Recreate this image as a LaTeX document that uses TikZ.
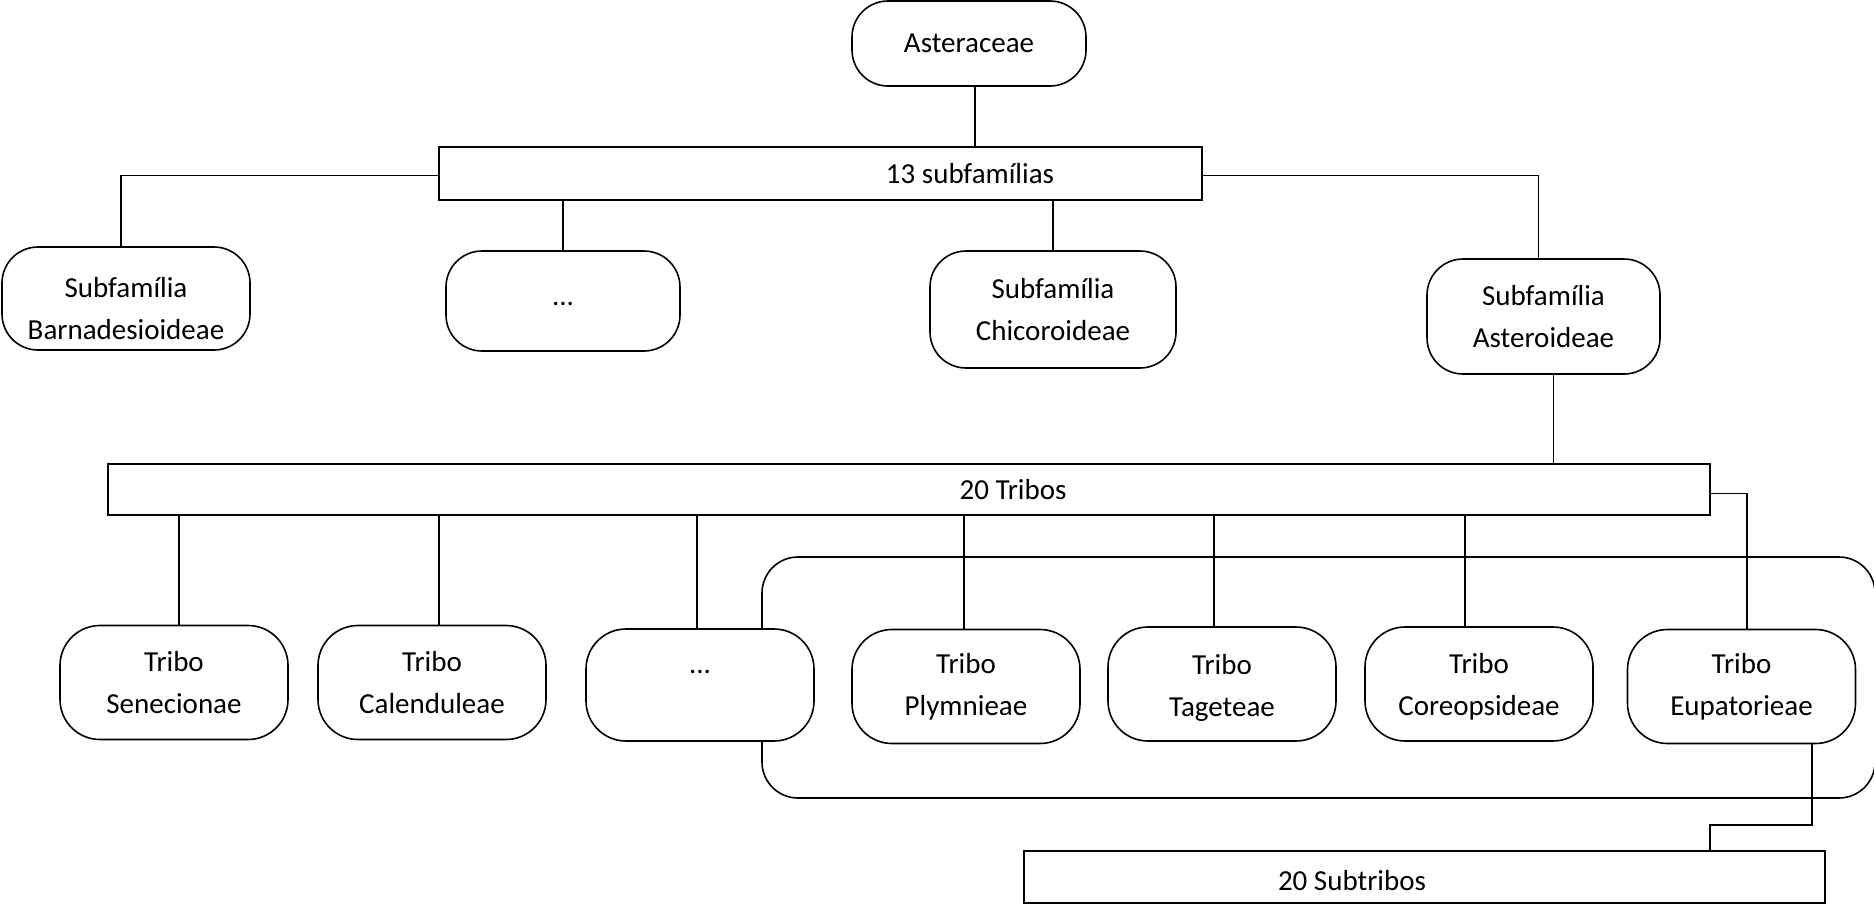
\documentclass[tikz,border=0pt]{standalone}
\usepackage{fontspec}
\setmainfont{Carlito}
\begin{document}
\begin{tikzpicture}[x=1pt,y=-1pt,
  every node/.style={font=\fontsize{29}{42}\selectfont, align=center, inner sep=0pt},
  roundbox/.style={draw, fill=white, line width=1.6pt, rounded corners=36pt},
  tribebox/.style={roundbox, minimum width=228pt, minimum height=114pt, rounded corners=40pt},
  rectbox/.style={draw, fill=white, line width=1.6pt},
  conn/.style={line width=1.4pt}]
\useasboundingbox (0,0) rectangle (1874,905);
\begin{scope}
\clip (0,0) rectangle (1874,905);
% group frame
\node[draw, line width=1.6pt, rounded corners=36pt, minimum width=1113pt, minimum height=241pt] (grp) at (1318.5,677.5) {};
% top nodes
\node[roundbox, minimum width=234pt, minimum height=85pt] (ast) at (969,43.5) {Asteraceae};
\node[rectbox, minimum width=763pt, minimum height=53pt] (sub) at (820.5,173.5) {};
\node (subt) at (970,174) {13 subfamílias};
\node[roundbox, minimum width=248pt, minimum height=103pt] (barn) at (126,298.5) {};
\node (barnt) at (126,309) {Subfamília\\Barnadesioideae};
\node[roundbox, minimum width=234pt, minimum height=100pt] (dots1) at (563,301) {};
\node (dots1t) at (563,304) {...};
\node[roundbox, minimum width=246pt, minimum height=117pt] (chic) at (1053,309.5) {Subfamília\\Chicoroideae};
\node[roundbox, minimum width=233pt, minimum height=115pt] (aster) at (1543.5,316.5) {Subfamília\\Asteroideae};
% tribes
\node[rectbox, minimum width=1602pt, minimum height=51pt] (tribos) at (909,489.5) {};
\node (tribost) at (1013,490) {20 Tribos};
% connectors
\draw[conn] ([xshift=6pt]ast.south) -- ([xshift=6pt]ast.south |- sub.north);
\draw[conn] ([yshift=-2pt]sub.west) -| ([xshift=-5pt]barn.north);
\draw[conn] (sub.south -| dots1.north) -- (dots1.north);
\draw[conn] (sub.south -| chic.north) -- (chic.north);
\draw[conn] ([yshift=-2pt]sub.east) -| ([xshift=-5pt]aster.north);
\draw[conn] ([xshift=10pt]aster.south) -- ([xshift=10pt]aster.south |- tribos.north);
\node[tribebox] (sen) at (174,682.5) {Tribo\\Senecionae};
\node[tribebox] (cal) at (432,682.5) {Tribo\\Calenduleae};
\node[tribebox, minimum height=112pt] (dots2) at (700,685) {};
\node (dots2t) at (700,672) {...};
\node[tribebox] (ply) at (966,686.5) {Tribo\\Plymnieae};
\node[tribebox] (tag) at (1222,684) {};
\node (tagt) at (1222,688) {Tribo\\Tageteae};
\node[tribebox] (cor) at (1479,684) {};
\node (cort) at (1479,687) {Tribo\\Coreopsideae};
\node[tribebox] (eup) at (1741.5,686.5) {Tribo\\Eupatorieae};
\draw[conn] (tribos.south -| 179,0) -- ([xshift=5pt]sen.north);
\draw[conn] (tribos.south -| 439,0) -- ([xshift=7pt]cal.north);
\draw[conn] (tribos.south -| 697,0) -- ([xshift=-3pt]dots2.north);
\draw[conn] (tribos.south -| 964,0) -- ([xshift=-2pt]ply.north);
\draw[conn] (tribos.south -| 1214,0) -- ([xshift=-8pt]tag.north);
\draw[conn] (tribos.south -| 1465,0) -- ([xshift=-14pt]cor.north);
\draw[conn] ([yshift=-4pt]tribos.east) -| ([xshift=5.5pt]eup.north);
% subtribes
\node[rectbox, minimum width=801pt, minimum height=52pt] (subtr) at (1424.5,877) {};
\node (subtrt) at (1352,881) {20 Subtribos};
\coordinate (bend) at (1812,825);
\draw[conn] ([xshift=70.5pt]eup.south) -- (bend) -| ([xshift=285.5pt]subtr.north);
\end{scope}
\end{tikzpicture}
\end{document}
